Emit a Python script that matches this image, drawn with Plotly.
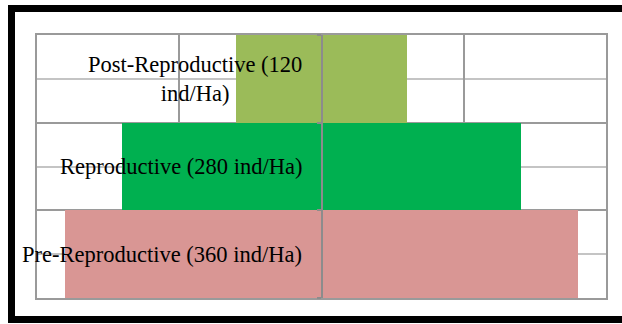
import plotly.graph_objects as go

# Population structure (individuals per hectare), bottom to top
stages = ["Pre-Reproductive", "Reproductive", "Post-Reproductive"]
density = [360, 280, 120]
colors = ["#D99694", "#00B050", "#9BBB59"]
label_text = [
    "Pre-Reproductive (360 ind/Ha)",
    "Reproductive (280 ind/Ha)",
    "Post-Reproductive (120<br>ind/Ha)",
]

W, H = 622, 324
ML, MR, MT, MB = 37, 16, 35, 26
PW, PH = W - ML - MR, H - MT - MB

fig = go.Figure()

# Pyramid bars centred on zero
for i, (s, v, c) in enumerate(zip(stages, density, colors)):
    fig.add_trace(go.Bar(
        y=[i], x=[v], base=[-v / 2], orientation="h", width=1,
        marker=dict(color=c, line=dict(width=0)),
        name=s, showlegend=False, hoverinfo="skip",
    ))

# Dummy trace so the central category axis is drawn
fig.add_trace(go.Scatter(x=[0], y=[0], yaxis="y2", mode="markers",
                         marker=dict(opacity=0), showlegend=False,
                         hoverinfo="skip"))

# Stage labels
for i, t in enumerate(label_text):
    fig.add_annotation(x=0, y=i, xref="x", yref="y", text=t,
                       showarrow=False, xanchor="right", yanchor="middle",
                       align="center", xshift=-18,
                       font=dict(family="Liberation Serif", size=22.5,
                                 color="#000000"))

# Outer black frame (right edge runs past the page)
fig.add_shape(type="rect", xref="paper", yref="paper",
              x0=(11.5 - ML) / PW, x1=(W + 10 - ML) / PW,
              y0=-(MB - 4.5) / PH, y1=1 + (MT - 8.5) / PH,
              line=dict(color="#000000", width=7), layer="above")

fig.update_layout(
    width=W, height=H,
    margin=dict(l=ML, r=MR, t=MT, b=MB, pad=0),
    paper_bgcolor="#FFFFFF", plot_bgcolor="#FFFFFF",
    barmode="overlay", bargap=0,
    xaxis=dict(range=[-200, 200], dtick=100, showticklabels=False,
               showgrid=True, gridcolor="#9A9A9A", gridwidth=1.5,
               zeroline=False, showline=True, linecolor="#9A9A9A",
               linewidth=1.5, mirror=True, ticks=""),
    yaxis=dict(range=[-0.5, 2.5], tickvals=[-0.5, 0.5, 1.5, 2.5],
               showticklabels=False, showgrid=True, gridcolor="#9A9A9A",
               gridwidth=1.5, zeroline=False, showline=True,
               linecolor="#9A9A9A", linewidth=1.5, mirror=True, ticks="",
               minor=dict(tickvals=[0, 1, 2], showgrid=True,
                          gridcolor="#C4C4C4", gridwidth=1.5)),
    yaxis2=dict(range=[-0.5, 2.5], overlaying="y", anchor="free",
                position=0.5, side="left", tickvals=[-0.5, 0.5, 1.5, 2.5],
                ticks="outside", ticklen=4, tickwidth=1.5,
                tickcolor="#8C8C8C", showticklabels=False, showgrid=False,
                zeroline=False, showline=True, linecolor="#8C8C8C",
                linewidth=2, layer="above traces"),
)

fig.write_html("out.html")
